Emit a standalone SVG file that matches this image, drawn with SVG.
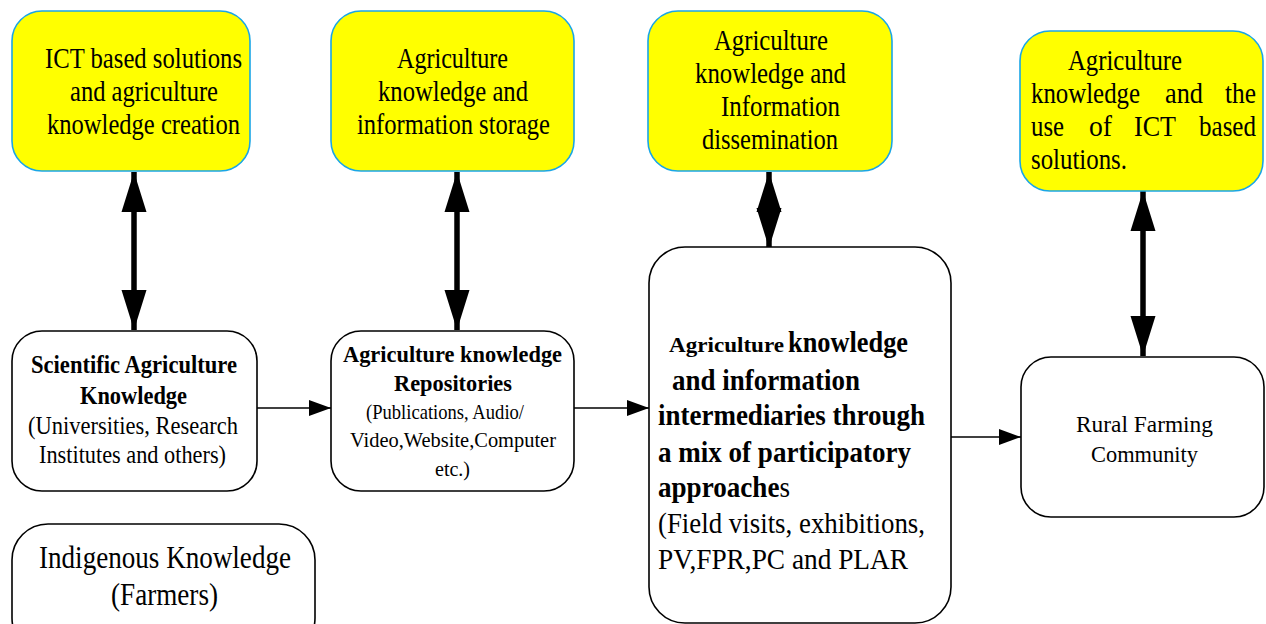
<svg xmlns="http://www.w3.org/2000/svg" width="1266" height="624" viewBox="0 0 1266 624" font-family="'Liberation Serif', 'Times New Roman', Times, serif">
  <defs>
    <style>
      .goal { fill: #ffff00; stroke: #1aa6e6; stroke-width: 1.6; }
      .box { fill: #ffffff; stroke: #000000; stroke-width: 1.6; }
      text { font-family: 'Liberation Serif', 'Times New Roman', Times, serif; fill: #000000; }
      .t27 { font-size: 30px; }
      .t23 { font-size: 25px; }
      .t21 { font-size: 23px; }
      .t20 { font-size: 22px; }
      .t26 { font-size: 29px; }
      .t28 { font-size: 32px; }
      .b { font-weight: bold; }
      .n { font-weight: normal; }
      .thin { stroke: #000000; stroke-width: 1.6; fill: none; marker-end: url(#headThin); }
      .thick { stroke: #000000; stroke-width: 5.5; fill: none; marker-start: url(#headBigStart); marker-end: url(#headBig); }
    </style>
    <marker id="headThin" markerUnits="userSpaceOnUse" markerWidth="24" markerHeight="18" refX="22" refY="8" orient="auto">
      <path d="M0,0 L22,8 L0,16 Z" fill="#000"/>
    </marker>
    <marker id="headBig" markerUnits="userSpaceOnUse" markerWidth="42" markerHeight="26" refX="40" refY="12.5" orient="auto">
      <path d="M0,0 L40,12.5 L0,25 Z" fill="#000"/>
    </marker>
    <marker id="headBigStart" markerUnits="userSpaceOnUse" markerWidth="42" markerHeight="26" refX="0" refY="12.5" orient="auto">
      <path d="M40,0 L0,12.5 L40,25 Z" fill="#000"/>
    </marker>
  </defs>

  <g id="connectors">
    <line class="thin" x1="257" y1="408" x2="331" y2="408"/>
    <line class="thin" x1="574" y1="408" x2="649" y2="408"/>
    <line class="thin" x1="951" y1="437" x2="1021" y2="437"/>
    <line class="thick" x1="134" y1="172" x2="134" y2="330"/>
    <line class="thick" x1="457" y1="172" x2="457" y2="330"/>
    <line class="thick" x1="769" y1="172" x2="769" y2="248" stroke-width="1"/>
    <line class="thick" x1="1143" y1="191" x2="1143" y2="356"/>
  </g>

  <g id="ict-creation">
    <rect class="goal" x="12" y="11" width="238" height="160" rx="30"/>
    <text class="t27" x="45" y="68" textLength="197" lengthAdjust="spacingAndGlyphs">ICT based solutions</text>
    <text class="t27" x="70" y="101" textLength="148" lengthAdjust="spacingAndGlyphs">and agriculture</text>
    <text class="t27" x="47" y="134" textLength="193" lengthAdjust="spacingAndGlyphs">knowledge creation</text>
  </g>

  <g id="storage">
    <rect class="goal" x="331" y="11" width="243" height="160" rx="30"/>
    <text class="t27" x="397" y="68" textLength="111" lengthAdjust="spacingAndGlyphs">Agriculture</text>
    <text class="t27" x="378" y="101" textLength="150" lengthAdjust="spacingAndGlyphs">knowledge and</text>
    <text class="t27" x="357" y="134" textLength="193" lengthAdjust="spacingAndGlyphs">information storage</text>
  </g>

  <g id="dissemination">
    <rect class="goal" x="648" y="11" width="244" height="160" rx="30"/>
    <text class="t27" x="714" y="50" textLength="114" lengthAdjust="spacingAndGlyphs">Agriculture</text>
    <text class="t27" x="695" y="83" textLength="151" lengthAdjust="spacingAndGlyphs">knowledge and</text>
    <text class="t27" x="721" y="116" textLength="119" lengthAdjust="spacingAndGlyphs">Information</text>
    <text class="t27" x="702" y="149" textLength="136" lengthAdjust="spacingAndGlyphs">dissemination</text>
  </g>

  <g id="ict-use">
    <rect class="goal" x="1020" y="31" width="243" height="160" rx="30"/>
    <text class="t27" x="1068" y="70" textLength="114" lengthAdjust="spacingAndGlyphs">Agriculture</text>
    <text class="t27" x="1031" y="103" textLength="109" lengthAdjust="spacingAndGlyphs">knowledge</text>
    <text class="t27" x="1165" y="103" textLength="38" lengthAdjust="spacingAndGlyphs">and</text>
    <text class="t27" x="1225" y="103" textLength="31" lengthAdjust="spacingAndGlyphs">the</text>
    <text class="t27" x="1031" y="136" textLength="33" lengthAdjust="spacingAndGlyphs">use</text>
    <text class="t27" x="1089" y="136" textLength="23" lengthAdjust="spacingAndGlyphs">of</text>
    <text class="t27" x="1134" y="136" textLength="42" lengthAdjust="spacingAndGlyphs">ICT</text>
    <text class="t27" x="1199" y="136" textLength="57" lengthAdjust="spacingAndGlyphs">based</text>
    <text class="t27" x="1031" y="169" textLength="96" lengthAdjust="spacingAndGlyphs">solutions.</text>
  </g>

  <g id="scientific">
    <rect class="box" x="12" y="331" width="245" height="160" rx="30"/>
    <text class="t23 b" x="31" y="373" textLength="206" lengthAdjust="spacingAndGlyphs">Scientific Agriculture</text>
    <text class="t23 b" x="80" y="404" textLength="107" lengthAdjust="spacingAndGlyphs">Knowledge</text>
    <text class="t23" x="28" y="434" textLength="210" lengthAdjust="spacingAndGlyphs">(Universities, Research</text>
    <text class="t23" x="39" y="463" textLength="187" lengthAdjust="spacingAndGlyphs">Institutes and others)</text>
  </g>

  <g id="repositories">
    <rect class="box" x="331" y="331" width="243" height="160" rx="30"/>
    <text class="t21 b" x="343" y="362" textLength="219" lengthAdjust="spacingAndGlyphs">Agriculture knowledge</text>
    <text class="t21 b" x="394" y="391" textLength="118" lengthAdjust="spacingAndGlyphs">Repositories</text>
    <text class="t20" x="366" y="419" textLength="158" lengthAdjust="spacingAndGlyphs">(Publications, Audio/</text>
    <text class="t20" x="350" y="447" textLength="206" lengthAdjust="spacingAndGlyphs">Video,Website,Computer</text>
    <text class="t20" x="435" y="476" textLength="35" lengthAdjust="spacingAndGlyphs">etc.)</text>
  </g>

  <g id="intermediaries">
    <rect class="box" x="649" y="247" width="302" height="376" rx="36"/>
    <text class="b" font-size="22" x="669" y="352" textLength="115" lengthAdjust="spacingAndGlyphs">Agriculture</text>
    <text class="t26 b" x="788" y="352" textLength="120" lengthAdjust="spacingAndGlyphs">knowledge</text>
    <text class="t26 b" x="672" y="390" textLength="188" lengthAdjust="spacingAndGlyphs">and information</text>
    <text class="t26 b" x="658" y="425" textLength="267" lengthAdjust="spacingAndGlyphs">intermediaries through</text>
    <text class="t26 b" x="658" y="462" textLength="253" lengthAdjust="spacingAndGlyphs">a mix of participatory</text>
    <text class="t26 b" x="658" y="497" textLength="132" lengthAdjust="spacingAndGlyphs">approache<tspan class="n">s</tspan></text>
    <text class="t26" x="658" y="533" textLength="267" lengthAdjust="spacingAndGlyphs">(Field visits, exhibitions,</text>
    <text class="t26" x="658" y="569" textLength="250" lengthAdjust="spacingAndGlyphs">PV,FPR,PC and PLAR</text>
  </g>

  <g id="rural">
    <rect class="box" x="1021" y="357" width="243" height="160" rx="30"/>
    <text class="t21" x="1076" y="432" textLength="137" lengthAdjust="spacingAndGlyphs">Rural  Farming</text>
    <text class="t21" x="1091" y="462" textLength="107" lengthAdjust="spacingAndGlyphs">Community</text>
  </g>

  <g id="indigenous">
    <rect class="box" x="12" y="524" width="303" height="130" rx="36"/>
    <text class="t28" x="39" y="568" textLength="252" lengthAdjust="spacingAndGlyphs">Indigenous Knowledge</text>
    <text class="t28" x="111" y="605" textLength="107" lengthAdjust="spacingAndGlyphs">(Farmers)</text>
  </g>
</svg>
